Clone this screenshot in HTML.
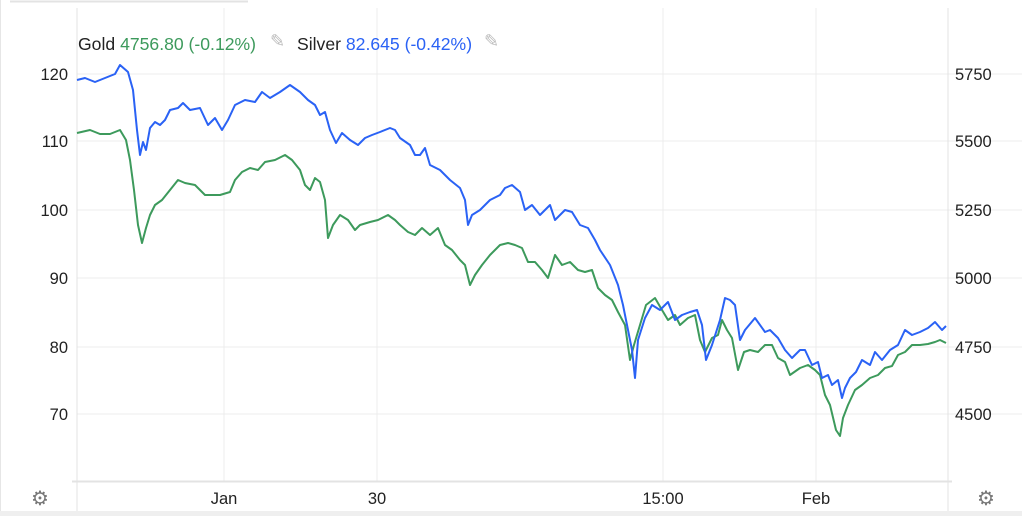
<!DOCTYPE html>
<html><head><meta charset="utf-8"><style>
html,body{margin:0;padding:0;background:#fff;}
svg{display:block;font-family:"Liberation Sans",Arial,sans-serif;}
</style></head><body>
<svg width="1022" height="516" viewBox="0 0 1022 516">
<rect x="0" y="0" width="1022" height="516" fill="#fff"/>
<line x1="10" y1="1.5" x2="248" y2="1.5" stroke="#e3e3e3" stroke-width="2"/>
<line x1="0.5" y1="0" x2="0.5" y2="516" stroke="#e6e6e6"/>
<rect x="0" y="511" width="1022" height="5" fill="#efefef"/>
<g stroke="#ececec" stroke-width="1">
<line x1="77" y1="74" x2="1022" y2="74"/>
<line x1="77" y1="141" x2="1022" y2="141"/>
<line x1="77" y1="210" x2="1022" y2="210"/>
<line x1="77" y1="278" x2="1022" y2="278"/>
<line x1="77" y1="347" x2="1022" y2="347"/>
<line x1="77" y1="414" x2="1022" y2="414"/>
<line x1="224" y1="8" x2="224" y2="481"/>
<line x1="377" y1="8" x2="377" y2="481"/>
<line x1="663" y1="8" x2="663" y2="481"/>
<line x1="816" y1="8" x2="816" y2="481"/>
</g>
<line x1="77" y1="8" x2="77" y2="511" stroke="#e3e3e3"/>
<line x1="948" y1="8" x2="948" y2="511" stroke="#e3e3e3"/>
<line x1="72" y1="481.5" x2="952" y2="481.5" stroke="#e3e3e3" stroke-width="2"/>
<g font-size="16.5" fill="#222">
<text x="68" y="80" text-anchor="end">120</text>
<text x="68" y="147" text-anchor="end">110</text>
<text x="68" y="216" text-anchor="end">100</text>
<text x="68" y="284" text-anchor="end">90</text>
<text x="68" y="353" text-anchor="end">80</text>
<text x="68" y="420" text-anchor="end">70</text>
<text x="955" y="80">5750</text>
<text x="955" y="147">5500</text>
<text x="955" y="216">5250</text>
<text x="955" y="284">5000</text>
<text x="955" y="353">4750</text>
<text x="955" y="420">4500</text>
<text x="224" y="504" text-anchor="middle">Jan</text>
<text x="377" y="504" text-anchor="middle">30</text>
<text x="663" y="504" text-anchor="middle">15:00</text>
<text x="816" y="504" text-anchor="middle">Feb</text>
</g>
<g font-size="17.6">
<text x="78" y="50" fill="#222">Gold <tspan fill="#3d9a5c">4756.80 (-0.12%)</tspan></text>
<text x="297" y="50" fill="#222">Silver <tspan fill="#2a62f5">82.645 (-0.42%)</tspan></text>
</g>
<text x="270" y="47" font-size="18" fill="#bbb">✎</text>
<text x="484" y="47" font-size="18" fill="#bbb">✎</text>
<text x="40" y="505" font-size="20" fill="#777" text-anchor="middle">⚙</text>
<text x="986" y="505" font-size="20" fill="#777" text-anchor="middle">⚙</text>
<polyline fill="none" stroke="#3d9a5c" stroke-width="2" stroke-linejoin="round" points="77,133 90,130 100,134 110,134 120,130 126,140 130,160 134,190 138,225 142,243 146,228 150,215 155,205 162,200 170,190 178,180 185,183 195,185 205,195 212,195 220,195 230,192 235,180 242,172 250,168 258,170 265,162 275,160 285,155 292,160 300,170 305,185 310,190 315,178 320,182 325,200 328,238 333,225 340,215 348,220 355,230 360,225 370,222 378,220 388,215 395,220 400,225 408,232 415,235 422,228 430,235 438,228 445,245 452,250 460,260 465,265 470,285 475,275 482,265 490,255 500,245 508,243 515,245 522,248 528,262 535,262 542,270 548,278 555,255 562,265 570,262 578,270 585,272 592,270 598,288 605,295 612,300 618,312 625,325 630,360 634,345 640,325 646,305 655,298 662,310 668,320 675,315 680,325 688,318 695,315 700,340 705,352 712,338 718,335 722,320 727,330 732,338 738,370 744,352 750,350 758,352 765,345 772,345 778,358 785,362 790,375 800,368 808,365 815,370 820,375 825,395 830,405 836,430 840,436 843,418 848,405 855,390 862,385 870,378 878,375 885,368 892,366 898,355 905,352 912,345 920,345 928,344 935,342 940,340 946,343"/>
<polyline fill="none" stroke="#2a62f5" stroke-width="2" stroke-linejoin="round" points="77,80 85,78 95,82 105,78 115,74 120,65 128,72 133,90 137,130 140,155 143,142 146,150 150,128 155,122 160,125 165,120 170,110 178,108 183,103 190,110 200,108 208,125 215,118 222,130 228,120 235,105 245,100 255,102 262,92 270,98 280,92 290,85 300,92 308,100 315,105 320,115 325,112 330,130 336,143 342,133 350,140 358,145 365,138 372,135 380,132 390,128 395,130 400,138 410,145 415,155 420,155 425,148 430,165 440,170 450,180 460,188 465,200 468,225 472,215 480,210 490,200 500,195 505,188 512,185 520,192 525,210 532,205 540,215 550,205 555,220 565,210 572,212 580,225 588,228 595,240 600,250 610,265 618,285 623,305 628,330 632,350 635,378 638,340 645,318 652,305 660,310 668,302 675,320 682,315 690,312 697,310 702,325 706,360 712,345 720,320 725,298 730,300 735,305 740,340 745,330 755,318 765,332 770,330 778,338 785,350 792,358 800,350 805,350 812,365 818,362 822,378 828,375 832,385 838,380 842,398 845,388 850,378 856,372 862,360 870,365 875,352 882,360 890,350 898,345 905,330 912,335 920,332 928,328 935,322 942,330 946,326"/>
</svg>
</body></html>
